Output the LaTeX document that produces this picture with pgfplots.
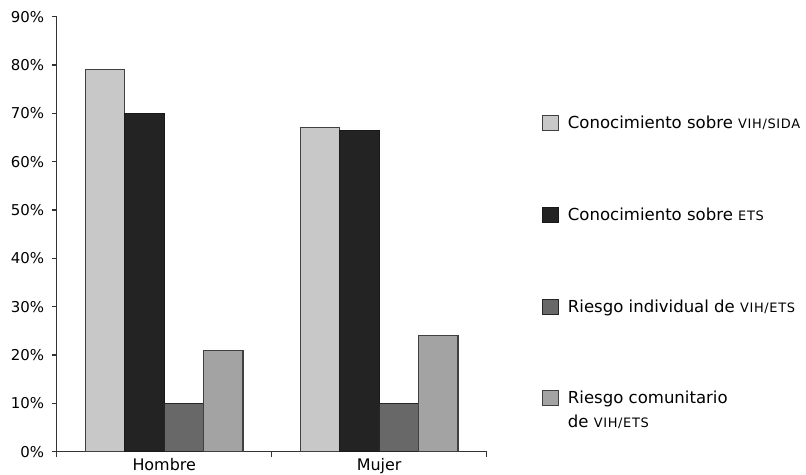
\documentclass[border=0pt]{standalone}
\usepackage{pgfplots}
\pgfplotsset{compat=1.18}
\usepackage{fontspec}
\setmainfont{DejaVu Sans}
\newfontfamily\scfont[LetterSpace=5]{DejaVu Sans}
\newcommand\fsc[1]{{\scfont\fontsize{13}{14}\selectfont #1}}
\definecolor{cA}{HTML}{C8C8C8}
\definecolor{cB}{HTML}{232323}
\definecolor{cC}{HTML}{686868}
\definecolor{cD}{HTML}{A3A3A3}
\definecolor{brd}{HTML}{404040}
\begin{document}
\begin{tikzpicture}
\path[use as bounding box] (0bp,0bp) rectangle (806bp,475bp);
\begin{axis}[
  at={(56.7bp,23.3bp)}, anchor=south west,
  scale only axis, width=430bp, height=435bp,
  ymin=0, ymax=90, ytick={0,10,...,90},
  yticklabel={\pgfmathprintnumber{\tick}\%},
  /pgf/number format/assume math mode=true,
  xmin=-0.5, xmax=1.5,
  xtick={-0.5,0.5,1.5}, xticklabels={},
  extra x ticks={0,1}, extra x tick labels={Hombre,Mujer},
  extra x tick style={major tick length=0pt},
  axis lines*=left,
  axis line style={line width=1.3bp, black!80, -},
  tick style={line width=1.3bp, black!80},
  tick align=outside, major tick length=5bp,
  yticklabel style={font=\fontsize{15}{18}\selectfont, xshift=-4bp},
  xticklabel style={font=\fontsize{16}{18}\selectfont, yshift=-3bp},
  enlargelimits=false,
  ybar=0pt, bar width=0.1833,
  legend style={at={(rel axis cs:1.128,0.7765)}, anchor=north west, draw=none, fill=none,
    inner sep=0pt, row sep=73.7bp, column sep=7bp, font=\fontsize{16.6}{19}\selectfont},
  legend cell align=left,
  legend image code/.code={\draw[#1, line width=1bp] (0bp,-7.5bp) rectangle (16bp,7.5bp);},
]
\addplot[fill=cA, draw=brd, line width=1.2bp] coordinates {(0,79) (1,67)};
\addlegendentry{Conocimiento sobre \fsc{VIH/SIDA}}
\addplot[fill=cB, draw=black!90, line width=1.2bp] coordinates {(0,70) (1,66.5)};
\addlegendentry{Conocimiento sobre \fsc{ETS}}
\addplot[fill=cC, draw=black!85, line width=1.2bp] coordinates {(0,10) (1,10)};
\addlegendentry{Riesgo individual de \fsc{VIH/ETS}}
\addplot[fill=cD, draw=brd, line width=1.2bp] coordinates {(0,21) (1,24)};
\addlegendentry{\rlap{\raisebox{-24bp}[0pt][0pt]{de \fsc{VIH/ETS}}}Riesgo comunitario}
\end{axis}
\end{tikzpicture}
\end{document}
